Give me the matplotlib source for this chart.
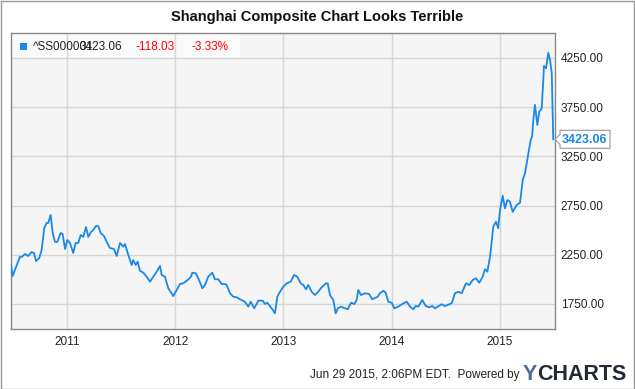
import matplotlib
matplotlib.use("Agg")
import matplotlib.pyplot as plt
from matplotlib.patches import Rectangle, Polygon
from matplotlib.transforms import IdentityTransform

plt.rcParams['font.family'] = ['Liberation Sans', 'DejaVu Sans']

# weekly-ish readings (decimal year, index level)
years = [2010.483, 2010.498, 2010.566, 2010.582, 2010.612, 2010.642, 2010.674, 2010.695,
         2010.714, 2010.744, 2010.766, 2010.790, 2010.812, 2010.827, 2010.849, 2010.868,
         2010.889, 2010.910, 2010.942, 2010.960, 2010.982, 2011.003, 2011.028, 2011.058,
         2011.080, 2011.104, 2011.127, 2011.151, 2011.176, 2011.197, 2011.222, 2011.243,
         2011.268, 2011.289, 2011.311, 2011.342, 2011.367, 2011.397, 2011.434, 2011.459,
         2011.490, 2011.520, 2011.536, 2011.561, 2011.598, 2011.612, 2011.635, 2011.653,
         2011.674, 2011.705, 2011.736, 2011.767, 2011.797, 2011.829, 2011.859, 2011.875,
         2011.905, 2011.936, 2011.982, 2012.013, 2012.044, 2012.074, 2012.115, 2012.145,
         2012.158, 2012.189, 2012.213, 2012.250, 2012.275, 2012.305, 2012.342, 2012.367,
         2012.398, 2012.429, 2012.460, 2012.475, 2012.506, 2012.536, 2012.568, 2012.598,
         2012.644, 2012.675, 2012.697, 2012.730, 2012.767, 2012.808, 2012.829, 2012.850,
         2012.891, 2012.921, 2012.943, 2012.968, 2012.998, 2013.030, 2013.067, 2013.097,
         2013.127, 2013.159, 2013.183, 2013.208, 2013.229, 2013.260, 2013.291, 2013.321,
         2013.353, 2013.393, 2013.408, 2013.430, 2013.460, 2013.482, 2013.501, 2013.531,
         2013.568, 2013.593, 2013.624, 2013.654, 2013.676, 2013.691, 2013.716, 2013.753,
         2013.790, 2013.820, 2013.870, 2013.891, 2013.922, 2013.944, 2013.968, 2013.999,
         2014.024, 2014.060, 2014.097, 2014.138, 2014.169, 2014.199, 2014.221, 2014.245,
         2014.282, 2014.314, 2014.344, 2014.375, 2014.400, 2014.461, 2014.492, 2014.554,
         2014.584, 2014.615, 2014.646, 2014.686, 2014.716, 2014.748, 2014.778, 2014.809,
         2014.840, 2014.861, 2014.883, 2014.908, 2014.938, 2014.963, 2014.984, 2015.000,
         2015.025, 2015.046, 2015.068, 2015.092, 2015.117, 2015.154, 2015.185, 2015.210,
         2015.231, 2015.262, 2015.284, 2015.296, 2015.308, 2015.323, 2015.345, 2015.363,
         2015.385, 2015.400, 2015.406, 2015.425, 2015.446, 2015.462, 2015.478, 2015.492]
values = [2146, 2034, 2231, 2228, 2258, 2238, 2278, 2268,
          2187, 2217, 2299, 2522, 2573, 2573, 2654, 2471,
          2383, 2380, 2471, 2461, 2309, 2400, 2370, 2268,
          2370, 2370, 2451, 2431, 2532, 2431, 2482, 2502,
          2542, 2542, 2471, 2441, 2380, 2319, 2309, 2238,
          2370, 2332, 2360, 2268, 2146, 2197, 2146, 2180,
          2088, 2068, 2027, 1977, 2027, 2078, 2136, 2045,
          2027, 1910, 1831, 1892, 1953, 1960, 1994, 2027,
          2068, 2062, 2011, 1910, 1943, 2027, 2068, 2001,
          2001, 1953, 1953, 1943, 1859, 1824, 1818, 1798,
          1773, 1723, 1773, 1706, 1784, 1784, 1750, 1763,
          1706, 1655, 1824, 1875, 1926, 1960, 1977, 2045,
          2027, 1960, 1943, 1899, 1943, 1875, 1841, 1875,
          1920, 1960, 1960, 1841, 1791, 1655, 1706, 1723,
          1706, 1696, 1763, 1750, 1791, 1892, 1841, 1859,
          1852, 1798, 1824, 1859, 1885, 1865, 1773, 1763,
          1706, 1723, 1750, 1773, 1723, 1696, 1730, 1723,
          1791, 1730, 1716, 1730, 1706, 1747, 1730, 1757,
          1859, 1875, 1859, 1960, 1943, 1994, 2011, 1966,
          2027, 2103, 2078, 2231, 2535, 2586, 2519, 2705,
          2850, 2722, 2807, 2789, 2685, 2756, 2779, 3010,
          3078, 3281, 3416, 3450, 3619, 3772, 3569, 3704,
          3738, 4026, 4168, 4145, 4303, 4229, 4094, 3423.06]

year_ticks = [2011, 2012, 2013, 2014, 2015]
value_ticks = [1750, 2250, 2750, 3250, 3750, 4250]
last_value = 3423.06
change = -118.03
change_pct = -3.33
ticker = '^SS000001'

blue = '#1a88e6'
W, H = 635, 389
fig = plt.figure(figsize=(W / 100, H / 100), dpi=100)
ax = fig.add_axes([11 / W, 60 / H, 544 / W, 296 / H])
ax.set_facecolor('#f5f5f5')

ax.plot(years, values, color=blue, lw=1.3, zorder=3)
ax.set_xlim(2010.483, 2015.508)
ax.set_ylim(1496, 4503)

ax.set_xticks(year_ticks)
ax.set_xticklabels([str(y) for y in year_ticks])
ax.set_yticks(value_ticks)
ax.set_yticklabels([f'{v:.2f}' for v in value_ticks])
ax.yaxis.tick_right()
ax.tick_params(length=0, labelsize=8.5, labelcolor='#222222')
ax.tick_params(axis='y', pad=4)
ax.tick_params(axis='x', pad=5)
ax.set_axisbelow(True)
ax.grid(True, color='#d6d6d6', lw=1)
for s in ax.spines.values():
    s.set_color('#888888')
    s.set_linewidth(1)

# legend band (the ticker and price overlap in the original too)
ax.add_patch(Rectangle((0, 1 - 25 / 296), 229 / 544, 25 / 296, transform=ax.transAxes,
                       facecolor='#fafafa', edgecolor='none', zorder=0.4))
fig.add_artist(Rectangle((20 / W, 1 - 50 / H), 7 / W, 7 / H, transform=fig.transFigure,
                         facecolor=blue, edgecolor='none'))
ly = 1 - 47 / H
fig.text(33 / W, ly, ticker, fontsize=8.5, color='#222222', va='center')
fig.text(80 / W, ly, f'{last_value:.2f}', fontsize=8.5, color='#222222', va='center')
fig.text(135 / W, ly, f'{change:.2f}', fontsize=8.5, color='#ff0000', va='center')
fig.text(192 / W, ly, f'{change_pct:.2f}%', fontsize=8.5, color='#ff0000', va='center')

# title
fig.text(0.5, 1 - 17 / H, 'Shanghai Composite Chart Looks Terrible', fontsize=10.5,
         fontweight='bold', ha='center', va='center', color='#111111')

# last value callout
px, py = ax.transData.transform((2015.508, last_value))
pts = [(px, py), (px + 5, py + 5), (px + 5, py + 9), (px + 55, py + 9),
       (px + 55, py - 9), (px + 5, py - 9), (px + 5, py - 5)]
fig.add_artist(Polygon(pts, closed=True, transform=IdentityTransform(),
                       facecolor='white', edgecolor='#999999', lw=0.8, zorder=5))
fig.text((px + 30) / W, (py - 1) / H, f'{last_value:.2f}', fontsize=9, fontweight='bold',
         color=blue, ha='center', va='center', zorder=6)

# footer
fig.text(519 / W, 1 - 375 / H, 'Jun 29 2015, 2:06PM EDT.  Powered by', fontsize=8.5,
         color='#222222', ha='right', va='center')
fig.text(523 / W, 1 - 374 / H, 'Y', fontsize=15.5, fontweight='bold', color='#4d6c9c',
         ha='left', va='center')
fig.text(537 / W, 1 - 374 / H, 'CHARTS', fontsize=15.5, fontweight='bold', color='#232a36',
         ha='left', va='center')

# outer frame
fig.add_artist(Rectangle((0.5 / W, 0.5 / H), 1 - 1.5 / W, 1 - 1.5 / H, transform=fig.transFigure,
                         facecolor='none', edgecolor='#999999', lw=1))

fig.savefig('out.png', dpi=100)
